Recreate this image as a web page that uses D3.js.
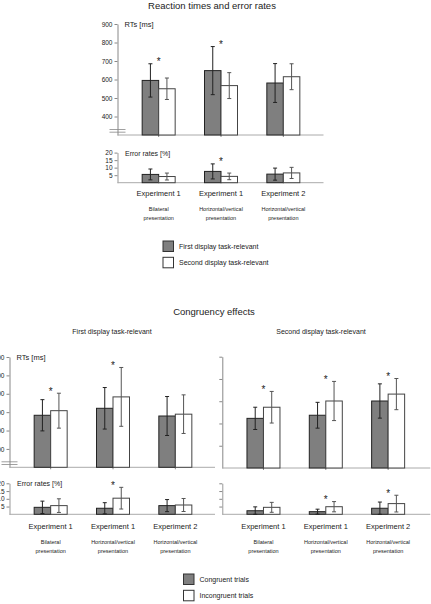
<!DOCTYPE html>
<html>
<head>
<meta charset="utf-8">
<script src="https://cdn.jsdelivr.net/npm/d3@7"></script>
<style>
  body { margin: 0; background: #fff; }
  text { font-family: "Liberation Sans", Arial, sans-serif; fill: #222; }
</style>
</head>
<body>
<svg id="fig" width="431" height="604"></svg>
<script>
// groups on the x axis
var groups = ['Experiment 1', 'Experiment 1', 'Experiment 2']
var groupSub = [['Bilateral', 'presentation'], ['Horizontal/vertical', 'presentation'], ['Horizontal/vertical', 'presentation']]
var rtTicks = [400, 500, 600, 700, 800, 900]
var rtTicksRight = [400, 500, 600, 700, 800]
var errTicks = [5, 10, 15, 20]

// top: reaction times and error rates
var rtFirst = [595, 648, 581]
var rtFirstSd = [90, 130, 105]
var rtSecond = [550, 567, 615]
var rtSecondSd = [58, 70, 70]
var rtStars = [1, 1, 0]
var erFirst = [5.5, 7.5, 5.7]
var erFirstSd = [3.6, 5, 4]
var erSecond = [4.1, 4.2, 6.5]
var erSecondSd = [2.3, 2.2, 3.7]
var erStars = [0, 1, 0]

// bottom left: first display task-relevant
var rtCongA = [583, 621, 579]
var rtCongASd = [85, 113, 106]
var rtIncA = [608, 683, 589]
var rtIncASd = [95, 160, 105]
var rtStarsA = [1, 1, 0]
var erCongA = [4.5, 3.9, 5.6]
var erCongASd = [4, 3.6, 3.9]
var erIncA = [5.6, 10.4, 6]
var erIncASd = [4.4, 7, 4.2]
var erStarsA = [0, 1, 0]

// bottom right: second display task-relevant
var rtCongB = [523, 537, 601]
var rtCongBSd = [50, 58, 77]
var rtIncB = [573, 601, 632]
var rtIncBSd = [71, 88, 70]
var rtStarsB = [1, 1, 1]
var erCongB = [2.3, 1.7, 3.9]
var erCongBSd = [2.5, 1.6, 4]
var erIncB = [4.5, 4.9, 6.9]
var erIncBSd = [3.2, 3.3, 5.4]
var erStarsB = [0, 1, 1]

var svg = d3.select('#fig')

var DARK = '#7f7f7f'
var barW = 16.5

// draw one bar block (two bars per group) with error bars
function drawBars(g, x, y, a, aSd, b, bSd, stars) {
    var rows = groups.map(function (name, i) {
        return { i: i, a: a[i], aSd: aSd[i], b: b[i], bSd: bSd[i], star: stars[i] }
    })
    var base = y.range()[0]
    var cx = function (d) { return x(d.i) + x.bandwidth() / 2 }

    g.selectAll('rect.a').data(rows).join('rect')
        .attr('class', 'a')
        .attr('x', function (d) { return cx(d) - barW })
        .attr('y', function (d) { return y(d.a) })
        .attr('width', barW)
        .attr('height', function (d) { return base - y(d.a) })
        .attr('fill', DARK).attr('stroke', '#222').attr('stroke-width', 1)

    g.selectAll('rect.b').data(rows).join('rect')
        .attr('class', 'b')
        .attr('x', function (d) { return cx(d) })
        .attr('y', function (d) { return y(d.b) })
        .attr('width', barW)
        .attr('height', function (d) { return base - y(d.b) })
        .attr('fill', '#fff').attr('stroke', '#444').attr('stroke-width', 1)

    var errs = []
    rows.forEach(function (d) {
        errs.push({ x: cx(d) - barW / 2, v: d.a, sd: d.aSd, c: '#222' })
        errs.push({ x: cx(d) + barW / 2, v: d.b, sd: d.bSd, c: '#555' })
    })
    var eg = g.selectAll('g.err').data(errs).join('g').attr('class', 'err')
        .attr('stroke', function (d) { return d.c }).attr('stroke-width', 1)
    eg.append('line')
        .attr('x1', function (d) { return d.x }).attr('x2', function (d) { return d.x })
        .attr('y1', function (d) { return y(d.v + d.sd) })
        .attr('y2', function (d) { return y(Math.max(y.domain()[0], d.v - d.sd)) })
    eg.append('line')
        .attr('x1', function (d) { return d.x - 2 }).attr('x2', function (d) { return d.x + 2 })
        .attr('y1', function (d) { return y(d.v + d.sd) }).attr('y2', function (d) { return y(d.v + d.sd) })
    eg.append('line')
        .attr('x1', function (d) { return d.x - 2 }).attr('x2', function (d) { return d.x + 2 })
        .attr('y1', function (d) { return y(Math.max(y.domain()[0], d.v - d.sd)) })
        .attr('y2', function (d) { return y(Math.max(y.domain()[0], d.v - d.sd)) })

    g.selectAll('text.star').data(rows.filter(function (d) { return d.star })).join('text')
        .attr('class', 'star')
        .attr('x', cx)
        .attr('y', function (d) { return Math.min(y(d.a + d.aSd), y(d.b + d.bSd)) + 1.5 })
        .attr('text-anchor', 'middle')
        .style('font-size', '10px')
        .text('*')
}

function drawPanel(p) {
    var g = svg.append('g')
    var x = d3.scaleBand().domain([0, 1, 2]).range([p.x0 + 10, p.x0 + 197])

    // RT part
    var yr = d3.scaleLinear().domain(p.rtDomain).range(p.rtRange)
    var ya = d3.axisLeft(yr).tickValues(p.rtTicks).tickSize(3).tickSizeOuter(0).tickPadding(2)
        .tickFormat(p.showLabels ? d3.format('d') : '')
    var gy = g.append('g').attr('transform', 'translate(' + p.x0 + ',0)').call(ya)
    gy.select('.domain').attr('stroke', '#888')
    gy.selectAll('.tick line').attr('stroke', '#888')
    gy.selectAll('.tick text').style('font-size', '6.5px').attr('fill', '#444')
        .style('font-family', '"Liberation Sans", Arial, sans-serif')

    // baseline
    g.append('line')
        .attr('x1', p.x0).attr('x2', p.x0 + p.baseLen)
        .attr('y1', p.rtRange[0]).attr('y2', p.rtRange[0])
        .attr('stroke', '#aaa')
    // group ticks
    g.selectAll('line.gt').data([0, 1, 2]).join('line').attr('class', 'gt')
        .attr('x1', function (i) { return x(i) + x.bandwidth() / 2 })
        .attr('x2', function (i) { return x(i) + x.bandwidth() / 2 })
        .attr('y1', p.rtRange[0]).attr('y2', p.rtRange[0] + 2).attr('stroke', '#888')

    if (p.showLabels) {
        // axis break
        g.selectAll('line.brk').data([-5.5, -2.8]).join('line').attr('class', 'brk')
            .attr('x1', p.x0 - 8).attr('x2', p.x0 + 8)
            .attr('y1', function (d) { return p.rtRange[0] + d })
            .attr('y2', function (d) { return p.rtRange[0] + d })
            .attr('stroke', '#888').attr('stroke-width', 0.8)
        g.append('text').attr('x', p.x0 + 7).attr('y', p.rtRange[1] + 3)
            .style('font-size', '7.5px').text('RTs [ms]')
    }

    drawBars(g.append('g'), x, yr, p.rt[0], p.rt[1], p.rt[2], p.rt[3], p.rt[4])

    // error rate part
    var ye = d3.scaleLinear().domain([0, 20]).range(p.erRange)
    var ea = d3.axisLeft(ye).tickValues(errTicks).tickSize(3).tickSizeOuter(0).tickPadding(2)
        .tickFormat(p.showLabels ? d3.format('d') : '')
    var ge = g.append('g').attr('transform', 'translate(' + p.x0 + ',0)').call(ea)
    ge.select('.domain').attr('stroke', '#999')
    ge.selectAll('.tick line').attr('stroke', '#888')
    ge.selectAll('.tick text').style('font-size', '6.5px').attr('fill', '#444')
        .style('font-family', '"Liberation Sans", Arial, sans-serif')
    g.append('line')
        .attr('x1', p.x0).attr('x2', p.x0 + p.baseLen)
        .attr('y1', p.erRange[0]).attr('y2', p.erRange[0])
        .attr('stroke', '#aaa')
    if (p.showLabels) {
        g.append('text').attr('x', p.x0 + 7.5).attr('y', p.erRange[1] + 3)
            .style('font-size', '7px').text('Error rates [%]')
    }

    drawBars(g.append('g'), x, ye, p.er[0], p.er[1], p.er[2], p.er[3], p.er[4])

    // group labels
    var lab = g.selectAll('g.lab').data(groups).join('g').attr('class', 'lab')
        .attr('transform', function (d, i) { return 'translate(' + (x(i) + x.bandwidth() / 2) + ',' + p.labY + ')' })
    lab.append('text').attr('text-anchor', 'middle').style('font-size', '7.5px').text(function (d) { return d })
    lab.append('text').attr('text-anchor', 'middle').attr('y', 15).style('font-size', '5.5px').attr('fill', '#444')
        .text(function (d, i) { return groupSub[i][0] })
    lab.append('text').attr('text-anchor', 'middle').attr('y', 24).style('font-size', '5.5px').attr('fill', '#444')
        .text(function (d, i) { return groupSub[i][1] })
}

function legend(x0, y0, names) {
    var lg = svg.append('g').attr('transform', 'translate(' + x0 + ',' + y0 + ')')
    var it = lg.selectAll('g').data(names).join('g')
        .attr('transform', function (d, i) { return 'translate(0,' + (i * 16.3) + ')' })
    it.append('rect').attr('width', 10.5).attr('height', 10.5)
        .attr('fill', function (d, i) { return i ? '#fff' : DARK })
        .attr('stroke', '#333')
    it.append('text').attr('x', 16).attr('y', 8).style('font-size', '7px').attr('fill', '#444')
        .text(function (d) { return d })
}

// titles
svg.append('text').attr('x', 212).attr('y', 9).attr('text-anchor', 'middle')
    .style('font-size', '9.5px').text('Reaction times and error rates')
svg.append('text').attr('x', 214).attr('y', 315).attr('text-anchor', 'middle')
    .style('font-size', '9.5px').text('Congruency effects')
svg.append('text').attr('x', 112).attr('y', 334).attr('text-anchor', 'middle')
    .style('font-size', '7px').attr('fill', '#444').text('First display task-relevant')
svg.append('text').attr('x', 321).attr('y', 334).attr('text-anchor', 'middle')
    .style('font-size', '7px').attr('fill', '#444').text('Second display task-relevant')

drawPanel({
    x0: 117.5, baseLen: 206, showLabels: true,
    rtDomain: [300, 900], rtRange: [135, 24], rtTicks: rtTicks,
    erRange: [182.7, 152.6], labY: 196,
    rt: [rtFirst, rtFirstSd, rtSecond, rtSecondSd, rtStars],
    er: [erFirst, erFirstSd, erSecond, erSecondSd, erStars]
})
drawPanel({
    x0: 9.5, baseLen: 205.5, showLabels: true,
    rtDomain: [300, 900], rtRange: [467.3, 357], rtTicks: rtTicks,
    erRange: [514.3, 483.3], labY: 528.5,
    rt: [rtCongA, rtCongASd, rtIncA, rtIncASd, rtStarsA],
    er: [erCongA, erCongASd, erIncA, erIncASd, erStarsA]
})
drawPanel({
    x0: 222.3, baseLen: 208, showLabels: false,
    rtDomain: [300, 800], rtRange: [468, 356.7], rtTicks: rtTicksRight,
    erRange: [514.3, 483.3], labY: 528.5,
    rt: [rtCongB, rtCongBSd, rtIncB, rtIncBSd, rtStarsB],
    er: [erCongB, erCongBSd, erIncB, erIncBSd, erStarsB]
})

legend(163, 241, ['First display task-relevant', 'Second display task-relevant'])
legend(183.5, 574, ['Congruent trials', 'Incongruent trials'])
</script>
</body>
</html>
